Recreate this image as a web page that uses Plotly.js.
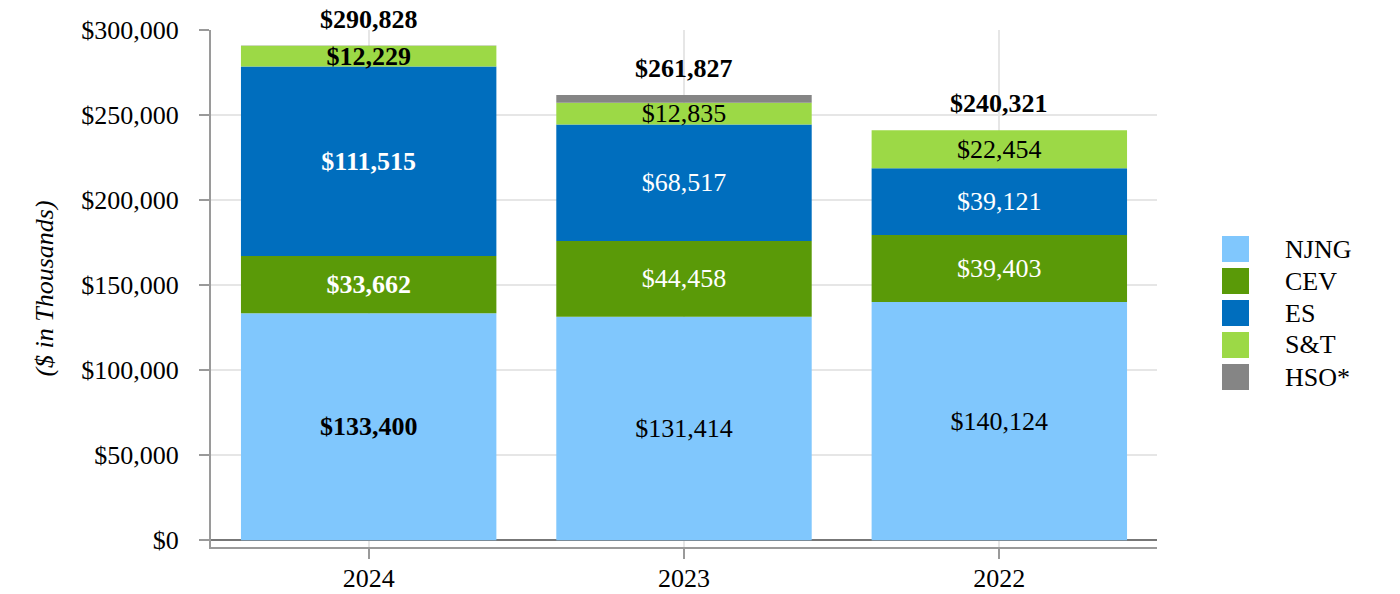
<!DOCTYPE html>
<html>
<head>
<meta charset="utf-8">
<script src="https://cdn.plot.ly/plotly-3.0.1.min.js"></script>
<style>html,body{margin:0;padding:0;background:#fff;}#chart{width:1400px;height:594px;}</style>
</head>
<body>
<div id="chart"></div>
<script>
// ---- data ----
const years = ['2024', '2023', '2022'];
const seriesNames = ['NJNG', 'CEV', 'ES', 'S&T', 'HSO*'];
const njng = [133400, 131414, 140124];
const cev = [33662, 44458, 39403];
const es = [111515, 68517, 39121];
const st = [12229, 12835, 22454];
const hso = [22, 4603, 0];
const totals = [290828, 261827, 240321];
const boldYears = ['2024'];

// ---- styling ----
const colors = ['#80C7FD', '#5A9A08', '#006EBE', '#9CD946', '#858585'];
const textColors = ['#000000', '#ffffff', '#ffffff', '#000000', '#000000'];
const showText = [true, true, true, true, false];
const FONT = 'Liberation Serif, Times New Roman, serif';
const FS = 26;

const seriesVals = [njng, cev, es, st, hso];
const fmt = v => '$' + v.toLocaleString('en-US');

const traces = seriesVals.map((vals, i) => ({
  type: 'bar',
  name: seriesNames[i],
  x: years,
  y: vals,
  width: 0.81,
  marker: {color: colors[i], line: {width: 0}},
  text: showText[i] ? vals.map((v, j) => boldYears.includes(years[j]) ? '<b>' + fmt(v) + '</b>' : fmt(v)) : null,
  textposition: showText[i] ? 'inside' : 'none',
  insidetextanchor: 'middle',
  constraintext: 'none',
  textangle: 0,
  textfont: {family: FONT, size: FS, color: textColors[i]},
  hoverinfo: 'none',
  showlegend: false
}));

// stacked tops for totals
const tops = years.map((_, j) => seriesVals.reduce((s, a) => s + Math.max(a[j], 0), 0));

const annotations = years.map((yr, j) => ({
  x: j, y: tops[j], xref: 'x', yref: 'y',
  text: '<b>' + fmt(totals[j]) + '</b>',
  showarrow: false, yanchor: 'bottom', yshift: 10,
  font: {family: FONT, size: FS, color: '#000'}
}));

// custom legend (big square swatches)
const L = 211, R = 1157, T = 30, B = 547;
const px2x = p => (p - L) / (R - L);
const px2y = p => (B - p) / (B - T);
const shapes = [];
seriesNames.forEach((n, i) => {
  const cy = 249 + i * 32;
  shapes.push({
    type: 'rect', xref: 'paper', yref: 'paper',
    x0: px2x(1222), x1: px2x(1249), y0: px2y(cy + 13), y1: px2y(cy - 13),
    fillcolor: colors[i], line: {width: 0}
  });
  annotations.push({
    xref: 'paper', yref: 'paper', x: px2x(1283), y: px2y(cy),
    xanchor: 'left', yanchor: 'middle', showarrow: false,
    text: n, font: {family: FONT, size: FS, color: '#000'}
  });
});

const layout = {
  width: 1400, height: 594,
  margin: {l: L, r: 1400 - R, t: T, b: 594 - B, pad: 0},
  paper_bgcolor: '#fff', plot_bgcolor: '#fff',
  barmode: 'relative',
  showlegend: false,
  font: {family: FONT, size: FS, color: '#000'},
  xaxis: {
    type: 'category',
    range: [-0.5, 2.5],
    showgrid: true, gridcolor: '#e6e6e6', gridwidth: 2,
    showline: true, linecolor: '#9a9a9a', linewidth: 2,
    ticks: 'outside', ticklen: 10, tickcolor: '#9a9a9a', tickwidth: 2,
    tickfont: {family: FONT, size: FS, color: '#000'},
    ticklabelstandoff: -3,
    fixedrange: true
  },
  yaxis: {
    range: [-4000, 300000],
    dtick: 50000, tick0: 0,
    tickprefix: '$', tickformat: ',d',
    showgrid: true, gridcolor: '#e6e6e6', gridwidth: 2,
    zeroline: true, zerolinecolor: '#777777', zerolinewidth: 2,
    showline: true, linecolor: '#9a9a9a', linewidth: 2,
    ticks: 'outside', ticklen: 10, tickcolor: '#9a9a9a', tickwidth: 2,
    tickfont: {family: FONT, size: FS, color: '#000'},
    ticklabelstandoff: 15,
    title: {text: '($ in Thousands)', font: {family: FONT, size: FS, color: '#000', style: 'italic'}, standoff: 20},
    fixedrange: true
  },
  annotations: annotations,
  shapes: shapes
};

Plotly.newPlot('chart', traces, layout, {displayModeBar: false, staticPlot: true});
</script>
</body>
</html>
